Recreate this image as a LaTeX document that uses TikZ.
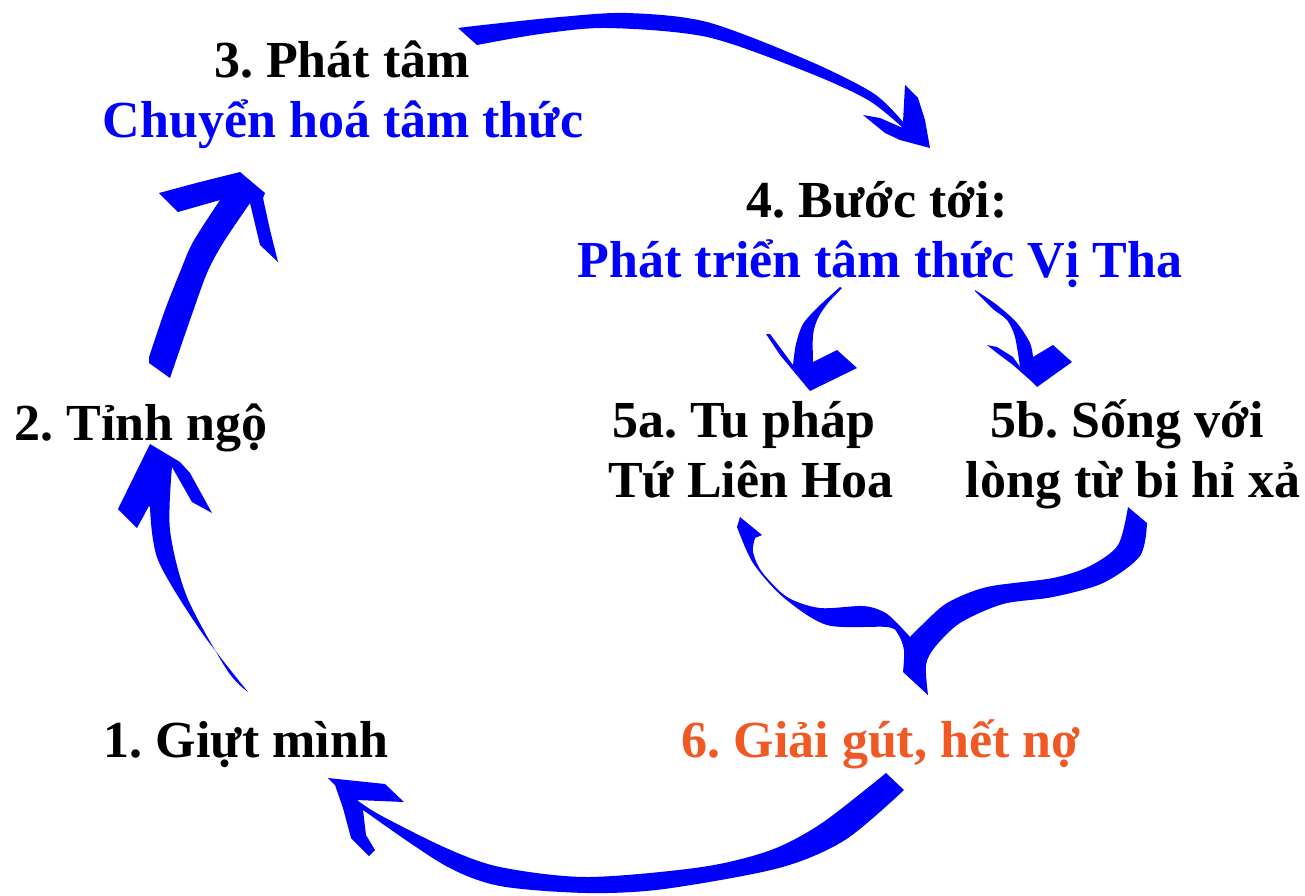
\documentclass[tikz,border=0pt]{standalone}
\usepackage{fontspec}
\setmainfont{Liberation Serif}
\definecolor{brushblue}{RGB}{0,0,255}
\definecolor{txtblue}{RGB}{0,0,255}
\definecolor{txtorange}{RGB}{240,88,36}
\frenchspacing
\begin{document}
\begin{tikzpicture}[x=0.5pt,y=-0.5pt,
  lbl/.style={anchor=base,inner sep=0pt,font=\fontsize{26}{31}\selectfont\bfseries},
  brush/.style={fill=brushblue}]
\useasboundingbox (0,0) rectangle (1305,895);

% labels
\node[lbl] (t3a) at (342,77) {3. Phát tâm};
\node[lbl,text=txtblue] (t3b) at (343,137) {Chuyển hoá tâm thức};
\node[lbl] (t4a) at (877,217) {4. Bước tới:};
\node[lbl,text=txtblue] (t4b) at (880,277) {Phát triển tâm thức Vị Tha};
\node[lbl] (t5a1) at (744,437) {5a. Tu pháp};
\node[lbl] (t5a2) at (751,497) {Tứ Liên Hoa};
\node[lbl] (t5b1) at (1127,437) {5b. Sống với};
\node[lbl] (t5b2) at (1133,497) {lòng từ bi hỉ xả};
\node[lbl] (t2) at (141,440) {2. Tỉnh ngộ};
\node[lbl] (t1) at (246,757) {1. Giựt mình};
\node[lbl,text=txtorange] (t6) at (881,757) {6. Giải gút, hết nợ};

% arrow 3 -> 4
\fill[brush] plot[smooth] coordinates {(458,28) (483,25) (560,17) (627,13) (707,22) (807,60) (873,93) (903,122)}
  -- (905,85) -- (918,98) -- (925,120) -- (930,148) -- (900,140) -- (885,133) -- (863,115) -- (880,118) -- (903,128)
  -- plot[smooth] coordinates {(903,128) (868,100) (807,72) (707,37) (607,28) (540,34) (477,45)} -- cycle;

% arrow 2 -> 3
\fill[brush] (149,357) -- plot[smooth] coordinates {(149,357) (165,310) (180,272) (193,242) (220,200)}
  -- (178,212) -- (159,193) -- (200,182) -- (240,172) -- (265,193) -- (263,198) -- (270,230) -- (278,262) -- (260,245) -- (250,203)
  -- plot[smooth] coordinates {(250,203) (223,243) (207,273) (190,320) (170,378)} -- (149,363) -- cycle;

% arrow 1 -> 2
\fill[brush] (150,444) -- (180,462) -- (190,473) -- (212,513) -- (192,502) -- (172,467)
  -- plot[smooth] coordinates {(172,467) (170,530) (187,597) (227,670) (248,692)}
  -- plot[smooth] coordinates {(248,692) (200,630) (158,560) (150,507)}
  -- (149,506) -- (137,528) -- (118,509) -- cycle;

% arrow 6 -> 1
\fill[brush] (328,778) -- (385,784) -- (404,802) -- (357,800)
  -- plot[smooth] coordinates {(357,800) (380,815) (446,848) (500,867) (587,877) (702,867) (771,850) (822,823) (886,773)}
  -- (904,790)
  -- plot[smooth] coordinates {(904,790) (845,840) (779,868) (664,889) (587,893) (500,886) (446,866) (380,822)}
  -- (363,810) -- (366,835) -- (375,850) -- (369,856) -- (351,838) -- (343,808) -- (335,785) -- cycle;

% arrows 5a, 5b -> 6
\fill[brush] (740,517) -- (762,535) -- (755,538)
  -- plot[smooth] coordinates {(755,538) (753,552) (762,572) (787,597) (820,608) (863,606) (884,612) (897,623) (910,637)}
  -- plot[smooth] coordinates {(910,637) (922,625) (947,603) (987,587) (1053,578) (1090,566) (1118,545) (1128,507)}
  -- (1147,523)
  -- plot[smooth] coordinates {(1147,523) (1140,556) (1103,583) (1053,597) (1003,604) (960,623) (935,647) (926,665) (928,695)}
  -- (903,672)
  -- plot[smooth] coordinates {(903,672) (904,650) (898,634) (887,627) (827,625) (783,597) (753,563) (737,527)} -- cycle;

% arrow 4 -> 5a
\fill[brush] (840,287) -- plot[smooth] coordinates {(840,287) (818,307) (803,324) (796,344) (793,365)}
  -- (770,334) -- (766,334) -- (780,355) -- (810,391) -- (857,368) -- (837,350) -- (813,362)
  -- plot[smooth] coordinates {(813,362) (813,335) (818,318) (828,303) (842,288)} -- cycle;

% arrow 4 -> 5b
\fill[brush] (975,290) -- plot[smooth] coordinates {(975,290) (997,305) (1017,323) (1030,343) (1033,357)}
  -- (1053,345) -- (1072,362) -- (1037,387) -- (1030,380) -- (1013,365) -- (997,353) -- (987,345) -- (997,347) -- (1013,357) -- (1020,367)
  -- plot[smooth] coordinates {(1020,367) (1015,337) (1007,320) (993,309) (975,291)} -- cycle;
\end{tikzpicture}
\end{document}
